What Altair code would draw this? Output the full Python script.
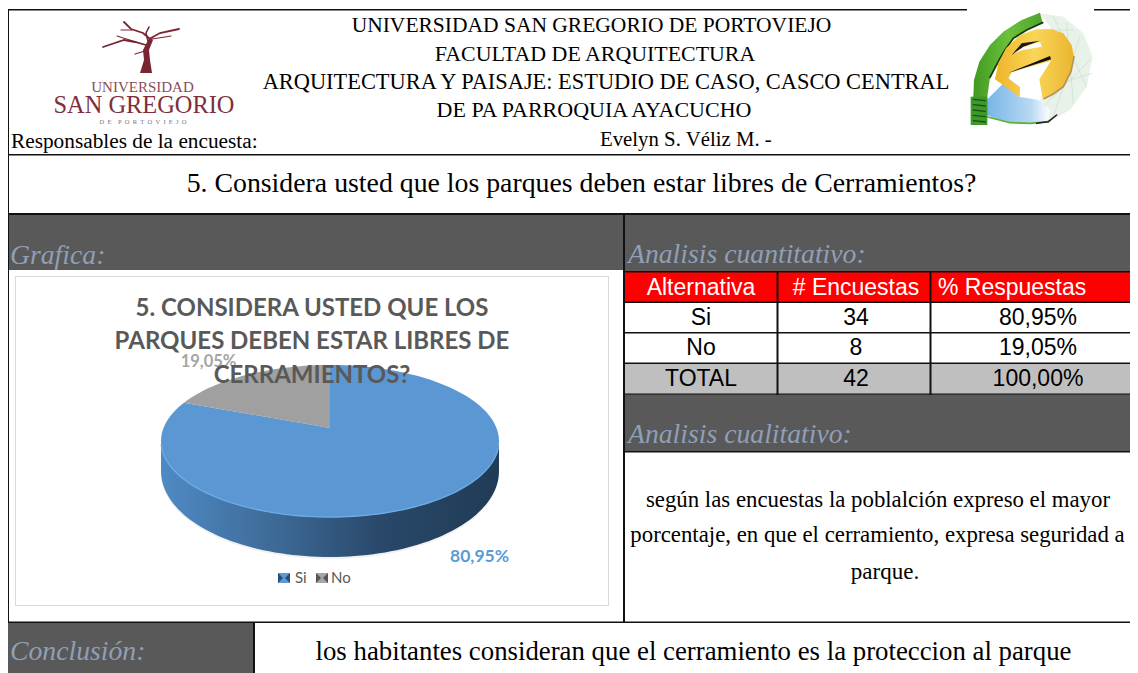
import math
import altair as alt

# ---- values ----
categories = ["Si", "No"]
counts = [34, 8]
shares = [80.95, 19.05]
percent_labels = ["80,95%", "19,05%"]
total_row = ["TOTAL", "42", "100,00%"]
table_head = ["Alternativa", "# Encuestas", "% Respuestas"]
header_lines = ["UNIVERSIDAD SAN GREGORIO DE PORTOVIEJO", "FACULTAD DE ARQUITECTURA",
                "ARQUITECTURA Y PAISAJE: ESTUDIO DE CASO, CASCO CENTRAL", "DE PA PARROQUIA AYACUCHO"]
chart_title = ["5. CONSIDERA USTED QUE LOS", "PARQUES DEBEN ESTAR LIBRES DE", "CERRAMIENTOS?"]
analysis = ["según las encuestas la poblalción expreso el mayor",
            "porcentaje, en que el cerramiento, expresa seguridad a", "parque."]

M = 8  # page margin
W, H = 1122, 665
SERIF = "Liberation Serif"
SANS = "Liberation Sans"
LATO = "Lato"
layers = []
one = alt.Data(values=[{"a": 1}])


def rect(x0, y0, x1, y1, color, **kw):
    layers.append(alt.Chart(one).mark_rect(color=color, **kw).encode(
        x=alt.value(x0 - M), x2=alt.value(x1 - M), y=alt.value(y0 - M), y2=alt.value(y1 - M)))


def text(t, x, y, size, font=SERIF, color="#000000", align="center", **kw):
    layers.append(alt.Chart(one).mark_text(text=t, font=font, fontSize=size, color=color, align=align,
                                           baseline="middle", **kw).encode(
        x=alt.value(x - M), y=alt.value(y - M)))


def poly(pts, fill, **kw):
    geom = {"type": "Polygon", "coordinates": [[[p[0] - M, p[1] - M] for p in pts] + [[pts[0][0] - M, pts[0][1] - M]]]}
    feat = {"type": "Feature", "properties": {}, "geometry": geom}
    layers.append(alt.Chart(alt.Data(values=[feat])).mark_geoshape(fill=fill, strokeWidth=0, **kw).project(
        type="identity", scale=1, translate=[0, 0]))


def line(pts, color, width=1.0, **kw):
    geom = {"type": "LineString", "coordinates": [[p[0] - M, p[1] - M] for p in pts]}
    feat = {"type": "Feature", "properties": {}, "geometry": geom}
    layers.append(alt.Chart(alt.Data(values=[feat])).mark_geoshape(
        filled=False, stroke=color, strokeWidth=width, strokeCap="round", **kw).project(
        type="identity", scale=1, translate=[0, 0]))


def grad(stops, horizontal=True):
    return alt.LinearGradient(gradient="linear", x1=0, y1=0, x2=1 if horizontal else 0, y2=0 if horizontal else 1,
                              stops=[alt.GradientStop(color=c, offset=o) for o, c in stops])


DARK = "#595959"
LINE = "#111111"
ITAL = "#8f9fb6"
R = W + M  # right edge of the drawable page
B = H + M  # bottom edge

# ---- dark bands and coloured cells ----
rect(8, 214, 624, 270, DARK)
rect(624, 214, R, 272, DARK)
rect(624, 272, R, 302, "#ff0000")
rect(624, 363, R, 394, "#bfbfbf")
rect(624, 394, R, 451, DARK)
rect(8, 622, 254, B, DARK)

# ---- ruling ----
rect(8, 9, 967, 10.5, LINE)
rect(1094, 9, R, 10.5, LINE)
rect(8, 9, 9, 622, LINE)
rect(8, 154, R, 155.5, LINE)
rect(8, 213, R, 215, LINE)
rect(623, 214, 625, 622, LINE)
rect(624, 271, R, 272.5, LINE)
rect(624, 301.5, R, 303, LINE)
rect(624, 332, R, 333.5, LINE)
rect(624, 362.5, R, 364, LINE)
rect(624, 393.5, R, 394.5, LINE)
rect(624, 451, R, 452.5, LINE)
rect(776.5, 272, 778.5, 395, LINE)
rect(929.5, 272, 931.5, 395, LINE)
rect(8, 621.5, R, 623, LINE)
rect(253, 622, 255, B, LINE)

# ---- left logo ----
RED = "#7a2632"
poly([(140, 73), (152, 73), (150, 60), (149, 50), (153, 40), (150, 37), (146, 44), (143, 50), (144, 60)], RED)
for pts, w in [
    ([(146, 45), (135, 42), (124, 40), (103, 47)], 1.8),
    ([(150, 39), (143, 33), (131, 29), (124, 22)], 1.8),
    ([(148, 41), (146, 33), (149, 27)], 1.6),
    ([(151, 38), (160, 33), (179, 29)], 1.8),
    ([(152, 39), (165, 37), (171, 36)], 1.2),
    ([(132, 30), (121, 30)], 1.1),
    ([(145, 51), (135, 54)], 1.3),
    ([(136, 42), (117, 36)], 1.1),
]:
    line(pts, RED, w)
text("UNIVERSIDAD", 142.5, 87, 15, color="#8b4d56")
text("SAN GREGORIO", 144, 106, 24.4, color="#7e2f3b")
text("D\u00a0\u00a0E\u00a0\u00a0\u00a0\u00a0P\u00a0\u00a0O\u00a0\u00a0R\u00a0\u00a0T\u00a0\u00a0O\u00a0\u00a0V\u00a0\u00a0I\u00a0\u00a0E\u00a0\u00a0J\u00a0\u00a0O", 143, 122, 6.5, color="#777777")


# ---- right logo ----
def lg(zx, zy):
    return (940 + zx / 3, zy / 3)


def zp(pts):
    return [lg(*p) for p in pts]


poly(zp([(300, 40), (370, 50), (430, 100), (458, 170), (440, 260), (390, 330), (320, 370), (300, 300), (380, 200), (330, 80)]), "#e9f2e9")
for a, b in [((340, 50), (440, 260)), ((380, 70), (400, 310)), ((420, 110), (340, 350)), ((450, 180), (310, 320)), ((400, 90), (320, 90)), ((455, 220), (330, 260))]:
    line(zp([a, b]), "#c3dcc3", 0.6)
poly(zp([(140, 300), (205, 235), (240, 262), (238, 290), (296, 300), (330, 330), (325, 362), (260, 372), (190, 365), (140, 345)]),
     grad([(0, "#78b5e8"), (0.7, "#b9d8f2"), (1, "#ffffff")]))
line(zp([(140, 350), (210, 368), (270, 370), (325, 365)]), "#5cb030", 1.6)
line(zp([(290, 370), (325, 365), (350, 345)]), "#222222", 1.6)
poly(zp([(142, 355), (108, 320), (100, 290), (102, 240), (118, 185), (150, 135), (190, 95), (245, 60), (300, 38), (308, 68),
         (260, 90), (220, 115), (195, 150), (180, 175), (150, 232), (142, 290)]),
     grad([(0, "#3f9a1f"), (0.5, "#6cc03c"), (1, "#4ea52a")]))
line(zp([(308, 68), (260, 90), (220, 115), (195, 150), (180, 175), (150, 232)]), "#173d0c", 1.8)
poly(zp([(92, 290), (142, 290), (142, 375), (92, 375)]), "#3c9a2a")
for yy in [298, 314, 330, 346, 362]:
    line(zp([(100, yy), (136, yy + 4)]), "#1d4f14", 1.3)
poly(zp([(165, 238), (175, 190), (198, 145), (240, 105), (290, 88), (335, 88), (370, 100), (395, 135), (402, 170), (393, 215),
         (370, 260), (340, 282), (308, 296), (298, 238), (333, 182), (215, 216), (205, 236), (240, 262), (238, 290)]),
     grad([(0, "#f0b42a"), (0.5, "#f9d657"), (1, "#eab530")]))
poly(zp([(215, 165), (245, 130), (300, 122), (250, 140)]), "#1a1a1a")
poly(zp([(222, 160), (250, 142), (300, 125), (305, 140), (250, 150)]), "#fbfbfb")
poly(zp([(207, 218), (330, 168), (333, 178), (215, 216)]), "#111111")
line(zp([(402, 170), (393, 215), (370, 260), (340, 282), (312, 296)]), "#b78f5a", 1.6)

# ---- header texts ----
for ln, xx, yy, ss in zip(header_lines, [591.5, 595, 606, 594], [26, 54, 82, 110], [21.5, 21.9, 22.4, 22]):
    text(ln, xx, yy, ss)
text("Responsables de la encuesta:", 11, 142, 21.3, align="left")
text("Evelyn S. Véliz M. -", 600, 140, 20.8, align="left")
text("5. Considera usted que los parques deben estar libres de Cerramientos?", 581.5, 184, 27.8)

# ---- section labels ----
text("Grafica:", 10, 256, 27.7, color=ITAL, align="left", fontStyle="italic")
text("Analisis cuantitativo:", 628, 255, 27.7, color=ITAL, align="left", fontStyle="italic")
text("Analisis cualitativo:", 628, 435, 27.7, color=ITAL, align="left", fontStyle="italic")
text("Conclusión:", 10, 652, 27.7, color=ITAL, align="left", fontStyle="italic")

# ---- table ----
col_x = [701, 856]
row_y = [317.5, 348, 379]
text(table_head[0], col_x[0], 287.5, 23, font=SANS, color="#ffffff")
text(table_head[1], col_x[1], 287.5, 23, font=SANS, color="#ffffff")
text(table_head[2], 938, 287.5, 23, font=SANS, color="#ffffff", align="left")
for i, cat in enumerate(categories):
    text(cat, col_x[0], row_y[i], 23, font=SANS)
    text(str(counts[i]), col_x[1], row_y[i], 23, font=SANS)
    text(percent_labels[i], 1038, row_y[i], 23, font=SANS)
text(total_row[0], col_x[0], row_y[2], 23, font=SANS)
text(total_row[1], col_x[1], row_y[2], 23, font=SANS)
text(total_row[2], 1038, row_y[2], 23, font=SANS)

# ---- analysis and conclusion ----
for ln, xx, yy, ss in zip(analysis, [878, 877.5, 885], [500, 535, 572], [22.8, 22.8, 23]):
    text(ln, xx, yy, ss)
text("los habitantes consideran que el cerramiento es la proteccion al parque", 693.5, 652, 26.8)

# ---- embedded chart frame ----
rect(15, 276, 609, 606, "#d9d9d9")
rect(16, 277, 608, 605, "#ffffff")

# ---- 3D pie: a disc seen in perspective, slices from the shares ----
CX, CY, A, Bb, P = 330, 428, 166.5, 73.8, 0.171


def disc(theta, drop=0.0):
    u, v = math.sin(theta), math.cos(theta)
    d = 1 + P * v
    return (CX + A * u / d, CY - Bb * v / d + drop)


def steps(t0, t1, n=90):
    return [t0 + (t1 - t0) * i / n for i in range(n + 1)]


t_l = 2 * math.pi - math.acos(-P)
t_r = math.acos(-P)
front = steps(t_r, t_l)


def wall_depth(t):
    return 28 + 12 * max(0.0, -math.cos(t))


poly([(p[0], p[1] + 2) for p in [disc(t, wall_depth(t)) for t in steps(0, 2 * math.pi, 120)]], "#f1f1f1")
poly([disc(t) for t in front] + [disc(t, wall_depth(t)) for t in reversed(front)],
     grad([(0, "#4f8ac4"), (0.3, "#3f6e9c"), (0.65, "#29486a"), (1, "#203b55")]))
split = 2 * math.pi * shares[0] / 100
poly([(CX, CY)] + [disc(t) for t in steps(0, split, 150)], "#5b97d3")
poly([(CX, CY)] + [disc(t) for t in steps(split, 2 * math.pi, 40)], "#a0a0a0")
line([disc(t) for t in steps(t_r + 0.1, t_l - 0.05)], "#6cabe4", 1.4)

text(percent_labels[1], 208.5, 362, 16.5, font=LATO, color="#a5a5a5", fontWeight="bold")
for ln, yy in zip(chart_title, [309, 342, 376]):
    text(ln, 312, yy, 24, font=LATO, color=DARK, fontWeight="bold")
text(percent_labels[0], 479.5, 557, 17.5, font=LATO, color="#5b9bd5", fontWeight="bold")

# ---- legend ----
for x0, base, dark, cat, tx in [(278, "#5b9bd5", "#2b4f73", categories[0], 295), (316, "#a5a5a5", "#555555", categories[1], 331)]:
    rect(x0, 573, x0 + 12, 583, base)
    poly([(x0, 573), (x0 + 5, 578), (x0, 583)], dark)
    poly([(x0 + 12, 573), (x0 + 7, 578), (x0 + 12, 583)], dark)
    text(cat, tx, 578, 15, font=LATO, color=DARK, align="left")

chart = alt.layer(*layers).properties(
    width=W, height=H, padding=0,
    autosize=alt.AutoSizeParams(type="none", contains="padding"),
    background="#ffffff",
).configure_view(stroke=None)

chart.save("out.html", embed_options={"renderer": "svg", "actions": False})
